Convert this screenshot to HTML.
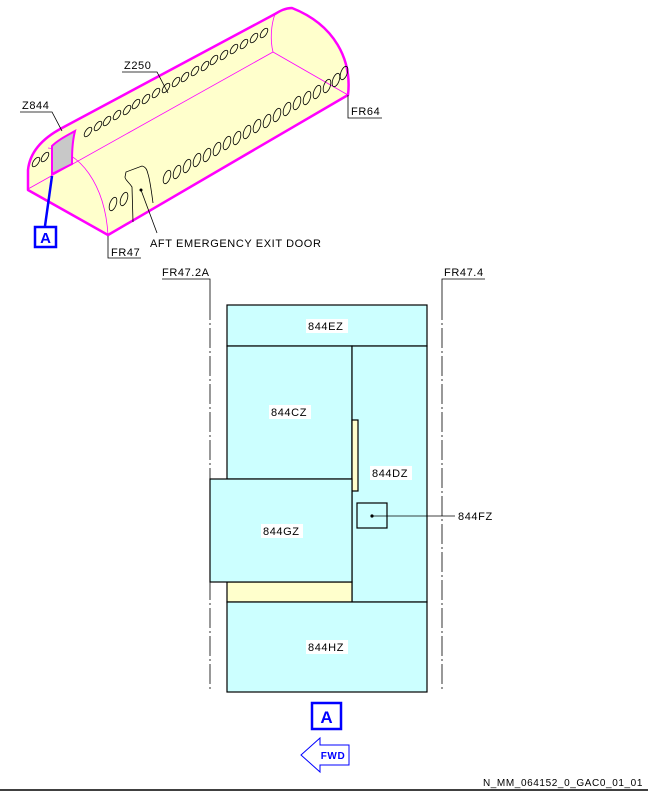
<!DOCTYPE html>
<html><head><meta charset="utf-8"><style>
html,body{margin:0;padding:0;background:#fff;}
svg{display:block;}
text{font-family:"Liberation Sans",sans-serif;fill:#000;letter-spacing:0.6px;}
</style></head><body>
<svg width="648" height="792" viewBox="0 0 648 792" xmlns="http://www.w3.org/2000/svg">
<path d="M28,190 L108,235 L348,95 C352,60 335,25 292,8 C285,8 280,11 275,14 L62,128 C45,137 30,150 28,170 Z" fill="#ffffcc" stroke="none"/>
<g stroke="#ff00ff" stroke-width="0.8" fill="none">
<path d="M28,189 L273,52 L348,95"/>
<path d="M273,52 C270,40 271,25 275,14"/>
<path d="M48,148 C80,150 105,185 108,235"/>
</g>
<path d="M52,174 L52,146 C58,140 66,136 75,131 C72,143 72,155 72,164 Z" fill="#c8c8c8" stroke="#ff00ff" stroke-width="2"/>
<g stroke="#ff00ff" stroke-width="2.5" fill="none" stroke-linejoin="round">
<path d="M28,190 L108,235 L348,95 C352,60 335,25 292,8 C285,8 280,11 275,14 L62,128 C45,137 30,150 28,170 Z"/>
</g>
<g stroke="#000" stroke-width="0.8" fill="none">
<ellipse cx="88" cy="132" rx="2.6" ry="5.5" transform="rotate(35 88 132)"/>
<ellipse cx="98" cy="126" rx="2.6" ry="5.5" transform="rotate(35 98 126)"/>
<ellipse cx="107" cy="121" rx="2.6" ry="5.5" transform="rotate(35 107 121)"/>
<ellipse cx="117" cy="115" rx="2.6" ry="5.5" transform="rotate(35 117 115)"/>
<ellipse cx="127" cy="110" rx="2.6" ry="5.5" transform="rotate(35 127 110)"/>
<ellipse cx="136" cy="104" rx="2.6" ry="5.5" transform="rotate(35 136 104)"/>
<ellipse cx="146" cy="99" rx="2.6" ry="5.5" transform="rotate(35 146 99)"/>
<ellipse cx="156" cy="93" rx="2.6" ry="5.5" transform="rotate(35 156 93)"/>
<ellipse cx="166" cy="88" rx="2.6" ry="5.5" transform="rotate(35 166 88)"/>
<ellipse cx="176" cy="82" rx="2.6" ry="5.5" transform="rotate(35 176 82)"/>
<ellipse cx="185" cy="77" rx="2.6" ry="5.5" transform="rotate(35 185 77)"/>
<ellipse cx="195" cy="71" rx="2.6" ry="5.5" transform="rotate(35 195 71)"/>
<ellipse cx="205" cy="66" rx="2.6" ry="5.5" transform="rotate(35 205 66)"/>
<ellipse cx="214" cy="60" rx="2.6" ry="5.5" transform="rotate(35 214 60)"/>
<ellipse cx="224" cy="55" rx="2.6" ry="5.5" transform="rotate(35 224 55)"/>
<ellipse cx="234" cy="49" rx="2.6" ry="5.5" transform="rotate(35 234 49)"/>
<ellipse cx="244" cy="44" rx="2.6" ry="5.5" transform="rotate(35 244 44)"/>
<ellipse cx="254" cy="38" rx="2.6" ry="5.5" transform="rotate(35 254 38)"/>
<ellipse cx="264" cy="33" rx="2.6" ry="5.5" transform="rotate(35 264 33)"/>
<ellipse cx="36" cy="162" rx="2.6" ry="5.5" transform="rotate(35 36 162)"/>
<ellipse cx="45" cy="157" rx="2.6" ry="5.5" transform="rotate(35 45 157)"/>
<ellipse cx="167" cy="177" rx="3.2" ry="7" transform="rotate(20 167 177)"/>
<ellipse cx="177" cy="172" rx="3.2" ry="7" transform="rotate(20 177 172)"/>
<ellipse cx="187" cy="166" rx="3.2" ry="7" transform="rotate(20 187 166)"/>
<ellipse cx="197" cy="160" rx="3.2" ry="7" transform="rotate(20 197 160)"/>
<ellipse cx="207" cy="155" rx="3.2" ry="7" transform="rotate(20 207 155)"/>
<ellipse cx="217" cy="149" rx="3.2" ry="7" transform="rotate(20 217 149)"/>
<ellipse cx="227" cy="143" rx="3.2" ry="7" transform="rotate(20 227 143)"/>
<ellipse cx="237" cy="138" rx="3.2" ry="7" transform="rotate(20 237 138)"/>
<ellipse cx="247" cy="132" rx="3.2" ry="7" transform="rotate(20 247 132)"/>
<ellipse cx="257" cy="126" rx="3.2" ry="7" transform="rotate(20 257 126)"/>
<ellipse cx="267" cy="121" rx="3.2" ry="7" transform="rotate(20 267 121)"/>
<ellipse cx="277" cy="115" rx="3.2" ry="7" transform="rotate(20 277 115)"/>
<ellipse cx="287" cy="109" rx="3.2" ry="7" transform="rotate(20 287 109)"/>
<ellipse cx="297" cy="103" rx="3.2" ry="7" transform="rotate(20 297 103)"/>
<ellipse cx="307" cy="98" rx="3.2" ry="7" transform="rotate(20 307 98)"/>
<ellipse cx="317" cy="92" rx="3.2" ry="7" transform="rotate(20 317 92)"/>
<ellipse cx="327" cy="86" rx="3.2" ry="7" transform="rotate(20 327 86)"/>
<ellipse cx="336" cy="80" rx="3.2" ry="7" transform="rotate(20 336 80)"/>
<ellipse cx="344" cy="73" rx="3.2" ry="7" transform="rotate(20 344 73)"/>
<ellipse cx="113" cy="204" rx="3.2" ry="7" transform="rotate(20 113 204)"/>
<ellipse cx="124" cy="199" rx="3.2" ry="7" transform="rotate(20 124 199)"/>
<path d="M133,222 L132,187 C129,182 125,180 125,177 L126,172 L142,166 C146,167 147,170 148,174 C150,180 151,188 153,203"/>
</g>
<circle cx="141" cy="190" r="1.5" fill="#000"/>
<g stroke="#000" stroke-width="0.8" fill="none">
<path d="M141,190 L157,233"/>
<path d="M62,131 L52,112 L20,112"/>
<path d="M168,93 L157,72 L122,72"/>
<path d="M348,95 L348,118 L382,118"/>
<path d="M108,236 L108,258 L141,258"/>
</g>
<text x="22" y="109" font-size="11">Z844</text>
<text x="124" y="69" font-size="11">Z250</text>
<text x="351" y="115" font-size="11">FR64</text>
<text x="111" y="256" font-size="11">FR47</text>
<text x="150" y="247" font-size="11">AFT EMERGENCY EXIT DOOR</text>
<path d="M52,176 L45,226" stroke="#0000ff" stroke-width="2.5"/>
<rect x="35" y="227" width="21" height="20" fill="#fff" stroke="#0000ff" stroke-width="2.5"/>
<text x="45.5" y="243" font-size="15" font-weight="bold" text-anchor="middle" style="fill:#0000ff;letter-spacing:0">A</text>

<g stroke="#000" stroke-width="0.8" fill="none">
<path d="M162,279 L210,279 L210,300"/>
<path d="M485,279 L442,279 L442,300"/>
<path d="M210,300 L210,692" stroke-dasharray="20,3,2,3"/>
<path d="M442,300 L442,692" stroke-dasharray="20,3,2,3"/>
</g>
<text x="162" y="276" font-size="11">FR47.2A</text>
<text x="444" y="276" font-size="11">FR47.4</text>
<g stroke="#000" stroke-width="1.2">
<rect x="227" y="305" width="200" height="41" fill="#ccffff"/>
<rect x="227" y="346" width="125" height="133" fill="#ccffff"/>
<rect x="352" y="346" width="75" height="256" fill="#ccffff"/>
<rect x="352" y="420" width="6" height="71" fill="#ffffcc"/>
<rect x="227" y="582" width="125" height="20" fill="#ffffcc"/>
<rect x="210" y="479" width="142" height="103" fill="#ccffff"/>
<rect x="227" y="602" width="200" height="90" fill="#ccffff"/>
<rect x="357" y="503" width="30" height="25" fill="none"/>
</g>
<path d="M372,516 L455,516" stroke="#000" stroke-width="0.8"/>
<circle cx="372" cy="516" r="1.6" fill="#000"/>
<g font-size="11">
<rect x="306" y="319" width="42" height="14" fill="#fff"/><text x="308" y="330">844EZ</text>
<rect x="269" y="405" width="42" height="14" fill="#fff"/><text x="271" y="416">844CZ</text>
<rect x="370" y="466" width="42" height="14" fill="#fff"/><text x="372" y="477">844DZ</text>
<rect x="261" y="524" width="42" height="14" fill="#fff"/><text x="263" y="535">844GZ</text>
<rect x="306" y="640" width="42" height="14" fill="#fff"/><text x="308" y="651">844HZ</text>
<text x="458" y="520">844FZ</text>
</g>
<rect x="312" y="703" width="29" height="26" fill="#fff" stroke="#0000ff" stroke-width="2.5"/>
<text x="326.5" y="723" font-size="17" font-weight="bold" text-anchor="middle" style="fill:#0000ff;letter-spacing:0">A</text>
<path d="M301,755 L320,738 L320,745 L349,745 L349,765 L320,765 L320,772 Z" fill="#fff" stroke="#0000ff" stroke-width="1"/>
<text x="333" y="759" font-size="10" font-weight="bold" text-anchor="middle" style="fill:#0000ff">FWD</text>
<text x="643" y="786" font-size="10" text-anchor="end">N_MM_064152_0_GAC0_01_01</text>
<line x1="0" y1="790" x2="648" y2="790" stroke="#000" stroke-width="1.5"/>
</svg>
</body></html>
